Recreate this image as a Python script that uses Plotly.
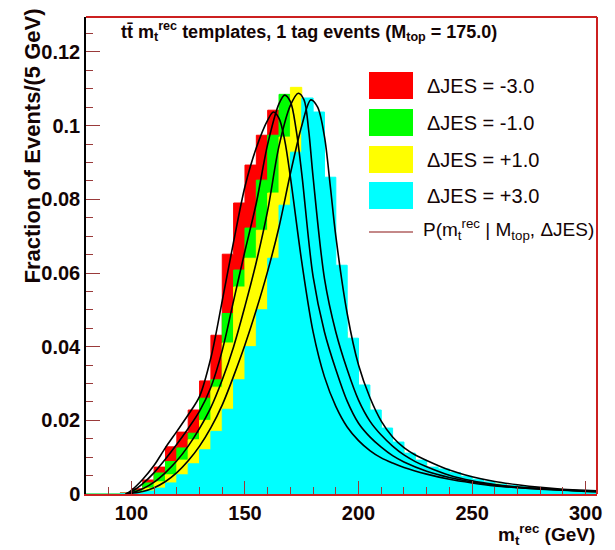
import plotly.graph_objects as go

# ---------------- data ----------------
bin_edges = list(range(80, 310, 5))  # 5 GeV bins, 80..305

hist_m3 = [0, 0, 0, 0.0003, 0.0014, 0.0038, 0.0073, 0.0128, 0.0168, 0.0228,
           0.0307, 0.0431, 0.0651, 0.0790, 0.0893, 0.0974, 0.1042, 0.0960, 0.0800, 0.0600,
           0.0440, 0.0320, 0.0240, 0.0185, 0.0148, 0.0120, 0.0098, 0.0082, 0.0070, 0.0060,
           0.0051, 0.0044, 0.0038, 0.0032, 0.0028, 0.0024, 0.0021, 0.0018, 0.0016, 0.0014,
           0.0012, 0.0010, 0.0009, 0.0008, 0.0007]
hist_m1 = [0, 0, 0, 0.0002, 0.0010, 0.0030, 0.0057, 0.0088, 0.0125, 0.0165,
           0.0260, 0.0310, 0.0490, 0.0608, 0.0722, 0.0852, 0.0974, 0.1085, 0.1000, 0.0820,
           0.0600, 0.0450, 0.0335, 0.0255, 0.0200, 0.0160, 0.0130, 0.0106, 0.0088, 0.0074,
           0.0063, 0.0054, 0.0046, 0.0039, 0.0033, 0.0029, 0.0025, 0.0021, 0.0018, 0.0016,
           0.0014, 0.0012, 0.0010, 0.0009, 0.0007]
hist_p1 = [0, 0, 0, 0, 0.0005, 0.0016, 0.0033, 0.0052, 0.0092, 0.0147,
           0.0200, 0.0290, 0.0410, 0.0562, 0.0640, 0.0716, 0.0817, 0.0969, 0.1104, 0.1000,
           0.0820, 0.0600, 0.0440, 0.0330, 0.0250, 0.0196, 0.0158, 0.0128, 0.0104, 0.0086,
           0.0072, 0.0061, 0.0052, 0.0044, 0.0037, 0.0031, 0.0027, 0.0023, 0.0020, 0.0017,
           0.0015, 0.0013, 0.0011, 0.0009, 0.0008]
hist_p3 = [0, 0, 0, 0.0001, 0.0003, 0.0008, 0.0016, 0.0030, 0.0052, 0.0082,
           0.0120, 0.0170, 0.0230, 0.0310, 0.0400, 0.0500, 0.0640, 0.0784, 0.0928, 0.1075,
           0.1037, 0.0860, 0.0621, 0.0423, 0.0296, 0.0228, 0.0179, 0.0141, 0.0111, 0.0092,
           0.0073, 0.0068, 0.0058, 0.0048, 0.0040, 0.0033, 0.0027, 0.0023, 0.0020, 0.0017,
           0.0015, 0.0013, 0.0011, 0.0009, 0.0008]

curve_m3_x = [97.5, 100, 105, 110, 115, 120, 125, 130, 135, 140, 145, 150, 155, 160, 162.5, 165,
              167.5, 170, 175, 180, 185, 190, 195, 200, 205, 210, 215, 220, 230, 240, 250, 260,
              270, 280, 290, 300, 305]
curve_m3_y = [0, 0.0010, 0.0040, 0.0078, 0.0126, 0.0170, 0.0215, 0.0265, 0.0370, 0.0525, 0.0685,
              0.0835, 0.0940, 0.1015, 0.1037, 0.1020, 0.0960, 0.0860, 0.0630, 0.0440, 0.0318,
              0.0238, 0.0182, 0.0145, 0.0118, 0.0098, 0.0084, 0.0072, 0.0054, 0.0040, 0.0030,
              0.0022, 0.0017, 0.0013, 0.0010, 0.0007, 0.0006]
curve_m1_x = [97.5, 100, 105, 110, 115, 120, 125, 130, 135, 140, 145, 150, 155, 160, 165, 167.5,
              170, 172.5, 175, 180, 185, 190, 195, 200, 205, 210, 215, 220, 230, 240, 250, 260,
              270, 280, 290, 300, 305]
curve_m1_y = [0, 0.0006, 0.0028, 0.0058, 0.0095, 0.0135, 0.0178, 0.0225, 0.0290, 0.0390, 0.0525,
              0.0660, 0.0790, 0.0950, 0.1060, 0.1083, 0.1065, 0.0990, 0.0870, 0.0590, 0.0440,
              0.0338, 0.0252, 0.0192, 0.0155, 0.0127, 0.0104, 0.0087, 0.0062, 0.0045, 0.0033,
              0.0024, 0.0018, 0.0014, 0.0011, 0.0008, 0.0007]
curve_p1_x = [97.5, 100, 105, 110, 115, 120, 125, 130, 135, 140, 145, 150, 155, 160, 165, 170,
              173.5, 176, 178, 180, 185, 190, 195, 200, 205, 210, 215, 220, 225, 230, 240, 250,
              260, 270, 280, 290, 300, 305]
curve_p1_y = [0, 0.0003, 0.0014, 0.0032, 0.0058, 0.0090, 0.0130, 0.0178, 0.0235, 0.0310, 0.0400,
              0.0510, 0.0630, 0.0770, 0.0945, 0.1055, 0.1088, 0.1070, 0.0990, 0.0860, 0.0585,
              0.0440, 0.0338, 0.0255, 0.0198, 0.0160, 0.0130, 0.0106, 0.0088, 0.0074, 0.0051,
              0.0036, 0.0026, 0.0019, 0.0015, 0.0011, 0.0008, 0.0007]
curve_p3_x = [97.5, 100, 105, 110, 115, 120, 125, 130, 135, 140, 145, 150, 155, 160, 165, 170,
              175, 179, 182, 185, 187.5, 190, 195, 200, 205, 210, 215, 220, 225, 230, 240, 250,
              260, 270, 280, 290, 300, 305]
curve_p3_y = [0, 0.0002, 0.0007, 0.0017, 0.0034, 0.0058, 0.0090, 0.0130, 0.0180, 0.0242, 0.0320,
              0.0405, 0.0500, 0.0605, 0.0725, 0.0870, 0.1000, 0.1070, 0.1050, 0.0970, 0.0840,
              0.0700, 0.0490, 0.0350, 0.0262, 0.0198, 0.0155, 0.0126, 0.0106, 0.0091, 0.0065,
              0.0047, 0.0034, 0.0025, 0.0018, 0.0013, 0.0010, 0.0009]

series_labels = ["ΔJES = -3.0", "ΔJES = -1.0", "ΔJES = +1.0", "ΔJES = +3.0"]
series_colors = ["#ff0000", "#00ff00", "#ffff00", "#00ffff"]
x_ticks = [100, 150, 200, 250, 300]

# ---------------- layout helpers ----------------
W, H = 615, 550
L, R, T, B = 86, 597, 17, 494
FONT = "Liberation Sans, Arial, Helvetica, sans-serif"
TXT = "#140404"
TICKC = "#9a3a3a"
FRAME = "#cc2020"


def fx(px):
    return (px - L) / (R - L)


def fy(py):
    return (B - py) / (B - T)


fig = go.Figure()

hists = [hist_m3, hist_m1, hist_p1, hist_p3]
for vals, col in zip(hists, series_colors):
    fig.add_trace(go.Scatter(
        x=bin_edges, y=vals + [vals[-1]], mode="lines", line_shape="hv",
        line=dict(color=col, width=1), fill="tozeroy", fillcolor=col,
        showlegend=False, hoverinfo="skip"))

for cx, cy in [(curve_m3_x, curve_m3_y), (curve_m1_x, curve_m1_y),
               (curve_p1_x, curve_p1_y), (curve_p3_x, curve_p3_y)]:
    fig.add_trace(go.Scatter(
        x=cx, y=cy, mode="lines", line_shape="spline",
        line=dict(color="#000000", width=1.6, smoothing=0.9),
        showlegend=False, hoverinfo="skip"))

shapes = []
# frame: top, right (red)
shapes.append(dict(type="line", xref="paper", yref="paper", x0=0, x1=1, y0=1, y1=1,
                   line=dict(color=FRAME, width=2)))
shapes.append(dict(type="line", xref="paper", yref="paper", x0=1, x1=1, y0=0, y1=1,
                   line=dict(color=FRAME, width=2)))

annotations = []
# legend boxes
box_tops = [72, 109, 146, 182]
for i, (lab, col) in enumerate(zip(series_labels, series_colors)):
    t = box_tops[i]
    shapes.append(dict(type="rect", xref="paper", yref="paper",
                       x0=fx(369), x1=fx(413), y0=fy(t + 27), y1=fy(t),
                       fillcolor=col, line=dict(width=0)))
    annotations.append(dict(xref="paper", yref="paper", x=fx(425), y=fy(t + 14),
                            xanchor="left", yanchor="middle", showarrow=False,
                            text=lab, font=dict(family=FONT, size=20, color=TXT)))
shapes.append(dict(type="line", xref="paper", yref="paper", x0=fx(369), x1=fx(413),
                   y0=fy(232), y1=fy(232), line=dict(color="#b06060", width=1.5)))
annotations.append(dict(xref="paper", yref="paper", x=fx(421), y=fy(229),
                        xanchor="left", yanchor="middle", showarrow=False,
                        text="P(m<sub>t</sub><sup>rec</sup> | M<sub>top</sub>, ΔJES)",
                        font=dict(family=FONT, size=19, color=TXT)))

# title
annotations.append(dict(xref="paper", yref="paper", x=fx(309), y=fy(32),
                        xanchor="center", yanchor="middle", showarrow=False,
                        text="<b>tt\u0304 m<sub>t</sub><sup>rec</sup> templates, 1 tag events (M<sub>top</sub> = 175.0)</b>",
                        font=dict(family=FONT, size=18, color=TXT)))
# y title
annotations.append(dict(xref="paper", yref="paper", x=fx(32), y=fy(7),
                        xanchor="center", yanchor="top", showarrow=False, textangle=-90,
                        text="<b>Fraction of Events/(5 GeV)</b>",
                        font=dict(family=FONT, size=22, color=TXT)))
# x title
annotations.append(dict(xref="paper", yref="paper", x=fx(597), y=fy(534),
                        xanchor="right", yanchor="middle", showarrow=False,
                        text="<b>m<sub>t</sub><sup>rec</sup> (GeV)</b>",
                        font=dict(family=FONT, size=19, color=TXT)))

fig.update_layout(
    width=W, height=H,
    margin=dict(l=L, r=W - R, t=T, b=H - B, pad=0),
    paper_bgcolor="white", plot_bgcolor="white",
    shapes=shapes, annotations=annotations,
    xaxis=dict(range=[80, 305], tickvals=x_ticks, ticks="inside", ticklen=13,
               tickcolor=TICKC, tickwidth=1, showgrid=False, zeroline=False,
               showline=True, linecolor=FRAME, linewidth=2,
               tickfont=dict(family=FONT, size=20, color=TXT, weight="bold"),
               minor=dict(dtick=10, tick0=0, ticks="inside", ticklen=7, tickcolor=TICKC,
                          showgrid=False)),
    yaxis=dict(range=[0, 0.1295], dtick=0.02, tick0=0, ticks="inside", ticklen=14,
               tickcolor=TICKC, tickwidth=1, showgrid=False, zeroline=False,
               showline=True, linecolor="#000000", linewidth=1.5,
               tickfont=dict(family=FONT, size=20, color=TXT, weight="bold"),
               minor=dict(dtick=0.005, tick0=0, ticks="inside", ticklen=7, tickcolor=TICKC,
                          showgrid=False)),
)

fig.write_html("out.html")
